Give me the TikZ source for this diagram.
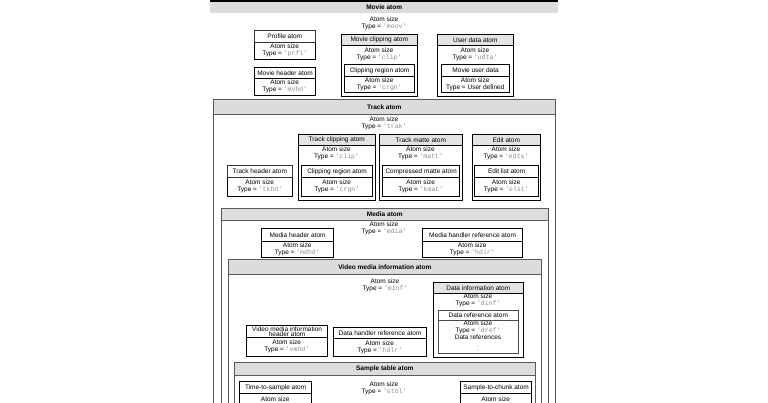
\documentclass[tikz,border=0pt]{standalone}
\usepackage{fontspec}
\setmainfont{Liberation Sans}
\setmonofont{Liberation Mono}
\usepackage{xcolor}
\definecolor{bandgray}{HTML}{DCDCDC}
\definecolor{headgray}{HTML}{E4E4E4}
\definecolor{typegray}{HTML}{8C8C8C}
\newcommand{\atype}[1]{\textcolor{typegray}{\texttt{'#1'}}}

\begin{document}
\begin{tikzpicture}[x=1pt,y=-1pt,
  every node/.style={inner sep=0pt, align=center, font=\fontsize{6.5}{7}\selectfont},
  box/.style={rectangle, anchor=north west},
  container/.style={box, draw=black!65, line width=0.6pt, fill=white},
  band/.style={box, draw=black!65, line width=0.6pt, fill=bandgray, font=\fontsize{6.5}{7}\selectfont\bfseries},
  atomframe/.style={box, draw=black, line width=0.9pt, fill=white},
  atomhead/.style={box, draw=black, line width=0.6pt, fill=headgray},
  leafhead/.style={box, draw=black, line width=1.2pt, fill=white},
  thinhead/.style={box, draw=black!80, line width=0.6pt, fill=white},
  leafbody/.style={box, draw=black, line width=0.5pt, fill=white}]
\useasboundingbox (0,0) rectangle (768,403);
\clip (0,0) rectangle (768,403);

% movie atom
\node[box, fill=bandgray, minimum width=348, minimum height=12, font=\fontsize{6.5}{7}\selectfont\bfseries] (movieH) at (210,1) {Movie atom};
\draw[line width=1.2pt] (movieH.north west) -- (movieH.north east);
\node (movieS) at (384,23.5) {Atom size\\Type = \atype{moov}};

\node[leafbody, minimum width=61, minimum height=17] (profB) at (254,42) {Atom size\\Type = \atype{prfl}};
\node[thinhead, minimum width=61, minimum height=12] (profT) at (254,30) {Profile atom};
\node[leafbody, minimum width=61, minimum height=17] (mvhdB) at (254,78) {Atom size\\Type = \atype{mvhd}};
\node[leafhead, minimum width=61, minimum height=11] (mvhdT) at (254,67) {Movie header atom};

\node[atomframe, minimum width=76, minimum height=62] (clipO) at (341,34) {};
\node[atomhead, minimum width=76, minimum height=11] (clipH) at (341,34) {Movie clipping atom};
\node (clipS) at (379,54.5) {Atom size\\Type = \atype{clip}};
\node[leafbody, minimum width=70, minimum height=16] (crgnB) at (344,76) {Atom size\\Type = \atype{crgn}};
\node[leafhead, minimum width=70, minimum height=12] (crgnT) at (344,64) {Clipping region atom};

\node[atomframe, minimum width=76, minimum height=62] (udtaO) at (437,34) {};
\node[atomhead, minimum width=76, minimum height=11] (udtaH) at (437,34) {User data atom};
\node (udtaS) at (475,54.5) {Atom size\\Type = \atype{udta}};
\node[leafbody, minimum width=68, minimum height=16] (udatB) at (441,76) {Atom size\\Type = User defined};
\node[leafhead, minimum width=68, minimum height=12] (udatT) at (441,64) {Movie user data};

% track atom
\node[container, minimum width=342, minimum height=320] (trakO) at (213,99) {};
\node[band, minimum width=342, minimum height=15] (trakH) at (213,99) {Track atom};
\node (trakS) at (384,123.5) {Atom size\\Type = \atype{trak}};

\node[leafbody, minimum width=65, minimum height=19] (tkhdB) at (227,177) {Atom size\\Type = \atype{tkhd}};
\node[thinhead, minimum width=65, minimum height=12] (tkhdT) at (227,165) {Track header atom};

\node[atomframe, minimum width=77, minimum height=66] (tclpO) at (298,134) {};
\node[atomhead, minimum width=77, minimum height=11] (tclpH) at (298,134) {Track clipping atom};
\node (tclpS) at (336.5,153) {Atom size\\Type = \atype{clip}};
\node[leafbody, minimum width=71, minimum height=19] (trgnB) at (301,177) {Atom size\\Type = \atype{crgn}};
\node[leafhead, minimum width=71, minimum height=12] (trgnT) at (301,165) {Clipping region atom};

\node[atomframe, minimum width=83, minimum height=66] (mattO) at (379,134) {};
\node[atomhead, minimum width=83, minimum height=11] (mattH) at (379,134) {Track matte atom};
\node (mattS) at (420.5,153) {Atom size\\Type = \atype{matt}};
\node[leafbody, minimum width=77, minimum height=19] (kmatB) at (382,177) {Atom size\\Type = \atype{kmat}};
\node[leafhead, minimum width=77, minimum height=12] (kmatT) at (382,165) {Compressed matte atom};

\node[atomframe, minimum width=68, minimum height=66] (edtsO) at (472,134) {};
\node[atomhead, minimum width=68, minimum height=11] (edtsH) at (472,134) {Edit atom};
\node (edtsS) at (506,153) {Atom size\\Type = \atype{edts}};
\node[leafbody, minimum width=64, minimum height=19] (elstB) at (474,177) {Atom size\\Type = \atype{elst}};
\node[leafhead, minimum width=64, minimum height=12] (elstT) at (474,165) {Edit list atom};

% media atom
\node[container, minimum width=327, minimum height=210] (mdiaO) at (221,208) {};
\node[band, minimum width=327, minimum height=12] (mdiaH) at (221,208) {Media atom};
\node (mdiaS) at (384,228) {Atom size\\Type = \atype{mdia}};
\node[leafbody, minimum width=72, minimum height=16] (mdhdB) at (261,241) {Atom size\\Type = \atype{mdhd}};
\node[leafhead, minimum width=72, minimum height=13] (mdhdT) at (261,228) {Media header atom};
\node[leafbody, minimum width=100, minimum height=16] (hdlrB) at (422,241) {Atom size\\Type = \atype{hdlr}};
\node[leafhead, minimum width=100, minimum height=13] (hdlrT) at (422,228) {Media handler reference atom};

% video media information atom
\node[container, minimum width=313, minimum height=160] (minfO) at (228,259) {};
\node[band, minimum width=313, minimum height=15] (minfH) at (228,259) {Video media information atom};
\node (minfS) at (385,285) {Atom size\\Type = \atype{minf}};

\node[atomframe, minimum width=90, minimum height=75] (dinfO) at (433,282) {};
\node[atomhead, minimum width=90, minimum height=11] (dinfH) at (433,282) {Data information atom};
\node (dinfS) at (478,300.5) {Atom size\\Type = \atype{dinf}};
\node[box, draw=black!70, line width=0.6pt, fill=white, minimum width=80, minimum height=43] (drefO) at (438,310) {};
\node[box, draw=black!70, line width=0.6pt, minimum width=80, minimum height=10] (drefH) at (438,310) {Data reference atom};
\node (drefS) at (478,330) {Atom size\\Type = \atype{dref}\\Data references};
\node[font=\fontsize{4.5}{4.5}\selectfont] (drefD) at (478,347.5) {$\vdots$};

\node[leafbody, minimum width=81, minimum height=19] (vmhdB) at (246,337) {Atom size\\Type = \atype{vmhd}};
\node[leafhead, minimum width=81, minimum height=12, font=\fontsize{6.5}{5.5}\selectfont] (vmhdT) at (246,325) {Video media information\\header atom};
\node[leafbody, minimum width=93, minimum height=18] (dhlrB) at (333,338) {Atom size\\Type = \atype{hdlr}};
\node[leafhead, minimum width=93, minimum height=11] (dhlrT) at (333,327) {Data handler reference atom};

% sample table atom
\node[container, minimum width=301, minimum height=60] (stblO) at (234,362) {};
\node[band, minimum width=301, minimum height=13] (stblH) at (234,362) {Sample table atom};
\node (stblS) at (384,388.5) {Atom size\\Type = \atype{stbl}};
\node[leafbody, minimum width=72, minimum height=21] (sttsB) at (239,393) {Atom size\\Type = \atype{stts}};
\node[leafhead, minimum width=72, minimum height=12] (sttsT) at (239,381) {Time-to-sample atom};
\node[leafbody, minimum width=71, minimum height=21] (stscB) at (460,393) {Atom size\\Type = \atype{stsc}};
\node[leafhead, minimum width=71, minimum height=12] (stscT) at (460,381) {Sample-to-chunk atom};
\end{tikzpicture}
\end{document}
